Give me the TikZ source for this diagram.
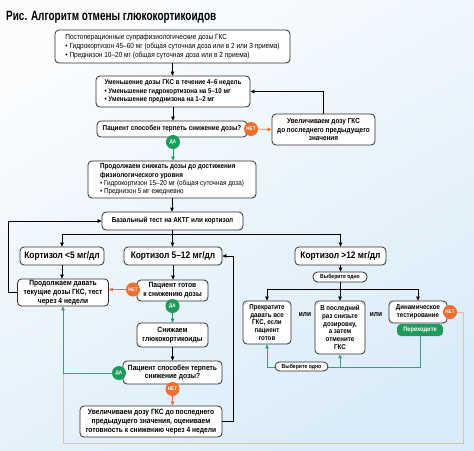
\documentclass[tikz,border=0pt]{standalone}
\usepackage{fontspec}
\setmainfont{Liberation Sans}[FakeStretch=0.88]
\usetikzlibrary{arrows.meta}
\definecolor{bord}{HTML}{2E2E2E}
\definecolor{orng}{HTML}{EE6F2D}
\definecolor{grn}{HTML}{1E9B5B}
\definecolor{tealln}{HTML}{3F9C80}
\definecolor{tanln}{HTML}{E0C3A3}
\definecolor{bgtop}{HTML}{FAFCFE}
\definecolor{bgbot}{HTML}{DAECF9}
\tikzset{
  box/.style={draw=bord, line width=0.8pt, rounded corners=4pt, fill=white, inner sep=0pt, align=center, font=\fontsize{7.2}{8.6}\selectfont\bfseries},
  regbox/.style={box, align=left, font=\fontsize{7.4}{8.8}\selectfont},
  lowbox/.style={box, font=\fontsize{7.6}{8.8}\selectfont\bfseries},
  narbox/.style={box, font=\fontsize{7}{7.8}\selectfont\bfseries},
  bigbox/.style={box, font=\fontsize{9.5}{10}\selectfont\bfseries},
  pill/.style={draw=bord, line width=0.8pt, rounded corners=4.5pt, fill=white, inner sep=0pt, font=\fontsize{5.8}{6}\selectfont\bfseries},
  arr/.style={-{Triangle[length=4pt,width=3.6pt]}, line width=0.7pt},
  ln/.style={line width=0.7pt},
  netc/.style={circle, fill=orng, inner sep=0pt, minimum size=14pt, text=white, font=\fontsize{5.2}{5}\selectfont\bfseries},
  dac/.style={circle, fill=grn, inner sep=0pt, minimum size=14pt, text=white, font=\fontsize{5.2}{5}\selectfont\bfseries},
  ili/.style={inner sep=0pt, font=\fontsize{7.5}{8}\selectfont\bfseries}
}
\begin{document}
\begin{tikzpicture}[x=1pt,y=-1pt]
\shade[top color=bgtop, bottom color=bgbot, shading angle=30] (0,0) rectangle (474,450);
\useasboundingbox (0,0) rectangle (474,450);

\node[anchor=west, inner sep=0pt] (title) at (6,17) {\scalebox{0.84}[1]{\fontsize{13.5}{14}\selectfont\bfseries Рис. Алгоритм отмены глюкокортикоидов}};

% boxes
\node[regbox, minimum width=235pt, minimum height=33pt] (box1) at (172.5,46.5)
 {Постоперационные супрафизиологические дозы ГКС\\%
• Гидрокортизон 45–60 мг (общая суточная доза или в 2 или 3 приема)\\%
• Преднизон 10–20 мг (общая суточная доза или в 2 приема)};
\node[box, align=left, minimum width=154pt, minimum height=31pt, font=\fontsize{7}{8.4}\selectfont\bfseries] (box2) at (173,91.5)
 {Уменьшение дозы ГКС в течение 4–6 недель\\%
• Уменьшение гидрокортизона на 5–10 мг\\%
• Уменьшение преднизона на 1–2 мг};
\node[box, minimum width=150pt, minimum height=16pt] (box3) at (172,129) {Пациент способен терпеть снижение дозы?};
\node[box, minimum width=103pt, minimum height=31pt, font=\fontsize{7.3}{8.4}\selectfont\bfseries] (box4) at (323.5,129.5)
 {Увеличиваем дозу ГКС\\до последнего предыдущего\\значения};
\node[regbox, minimum width=168pt, minimum height=37pt, font=\fontsize{7.2}{8.2}\selectfont] (box5) at (172,179.5)
 {\textbf{Продолжаем снижать дозы до достижения}\\%
\textbf{физиологического уровня}\\%
• Гидрокортизон 15–20 мг (общая суточная доза)\\%
• Преднизон 5 мг ежедневно};
\node[box, minimum width=141pt, minimum height=18pt] (box6) at (172.5,221) {Базальный тест на АКТГ или кортизол};
\node[bigbox, minimum width=84pt, minimum height=18pt] (box7) at (62,256) {Кортизол <5 мг/дл};
\node[bigbox, minimum width=98pt, minimum height=18pt] (box8) at (173,256) {Кортизол 5–12 мг/дл};
\node[bigbox, minimum width=91pt, minimum height=18pt] (box9) at (340.5,256) {Кортизол >12 мг/дл};
\node[lowbox, minimum width=91pt, minimum height=27pt] (box10) at (63,292.5) {Продолжаем давать\\текущие дозы ГКС, тест\\через 4 недели};
\node[lowbox, minimum width=71pt, minimum height=21pt] (box11) at (172.5,290.5) {Пациент готов\\к снижению дозы};
\node[lowbox, minimum width=71pt, minimum height=24pt] (box12) at (172.5,335) {Снижаем\\глюкокортикоиды};
\node[lowbox, minimum width=99pt, minimum height=23pt] (box13) at (172.5,372.5) {Пациент способен терпеть\\снижение дозы?};
\node[lowbox, minimum width=142pt, minimum height=31pt] (box14) at (151,421.5) {Увеличиваем дозу ГКС до последнего\\предыдущего значения, оцениваем\\готовность к снижению через 4 недели};
\node[narbox, minimum width=48pt, minimum height=43pt] (box15) at (267,322.5) {Прекратите\\давать все\\ГКС, если\\пациент\\готов};
\node[narbox, minimum width=50pt, minimum height=53pt] (box16) at (340,327.5) {В последний\\раз снизьте\\дозировку,\\а затем\\отмените\\ГКС};
\node[narbox, minimum width=58pt, minimum height=22pt] (box17) at (418,312) {Динамическое\\тестирование};
\node[pill, minimum width=54pt, minimum height=10pt] (pill1) at (340,277) {Выберите одно};
\node[fill=grn, rounded corners=4pt, inner sep=0pt, minimum width=46pt, minimum height=12pt, text=white, font=\fontsize{6.5}{7}\selectfont\bfseries] (gp) at (420,330) {Переходите};
\node[ili] (ili1) at (305,315) {или};
\node[ili] (ili2) at (376,315) {или};

% circles
\node[netc] (net1) at (251,129) {НЕТ};
\node[dac] (da1) at (173,142) {ДА};
\node[netc] (net2) at (133,289.5) {НЕТ};
\node[dac] (da2) at (172.5,306) {ДА};
\node[dac] (da3) at (119,373) {ДА};
\node[netc] (net3) at (172.5,389) {НЕТ};
\node[netc] (net4) at (450,312) {НЕТ};

\coordinate (lft) at (8,0);
\coordinate (tanc) at (463,443);
\coordinate (tbot) at (420,367);

% connectors
\draw[arr] (box1.south) -- (box1.south |- box2.north);
\draw[arr] (box2.south) -- (box2.south |- box3.north);
\draw[arr, orng] (net1.east) -- (box4.west);
\draw[arr] (box4.north) |- (box2.east);
\draw[arr, grn] (da1.south) -- (da1.south |- box5.north);
\draw[arr] (box5.south) -- (box5.south |- box6.north);
\draw[arr] (box6.south) -- ++(0,4) -| (box7.north);
\draw[arr] (box6.south) -- (box6.south |- box8.north);
\draw[arr] (box6.south) -- ++(0,4) -| (box9.north);
\draw[arr] (box7.south) -- (box7.south |- box10.north);
\draw[arr] (box8.south) -- (box8.south |- box11.north);
\draw[arr, orng] (net2.west) -- (net2.west -| box10.east);
\draw[arr, grn] (da2.south) -- (da2.south |- box12.north);
\draw[arr] (box12.south) -- (box12.south |- box13.north);
\draw[ln, tanln] (net4.east) -| (tanc) -| (da3 -| box10.south);
\draw[arr, tealln] (da3.west) -| (box10.south);
\draw[arr, orng] (net3.south) -- (net3.south |- box14.north);
\draw[arr] (box14.east) -- ++(11,0) |- (box8.east);
\draw[arr] (box10.west) -- (box10.west -| lft) |- (box6.west);
\draw[arr] (box9.south) -- (box9.south |- pill1.north);
\draw[arr] (pill1.south) -- ++(0,7) -| (box15.north);
\draw[arr] (pill1.south) -- (pill1.south |- box16.north);
\draw[arr] (pill1.south) -- ++(0,7) -| (box17.north);
\draw[arr, tealln] (gp.south) |- (box15.south |- tbot) -- (box15.south);
\draw[arr, tealln] (box16.south |- tbot) -- (box16.south);

\node[pill, minimum width=53pt, minimum height=9pt] (pill2) at (301.5,366.5) {Выберите одно};
\end{tikzpicture}
\end{document}
